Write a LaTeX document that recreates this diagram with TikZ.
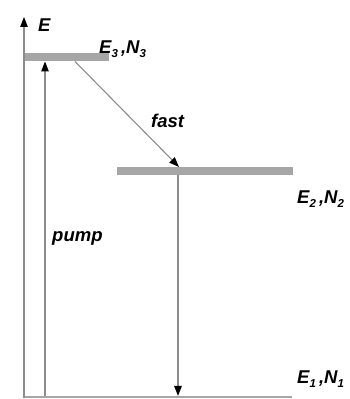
\documentclass[tikz,border=0pt]{standalone}
\usepackage{fontspec}
\setmainfont{Liberation Sans}
\usetikzlibrary{arrows.meta}
\definecolor{barcol}{HTML}{A6A6A6}
\definecolor{linecol}{HTML}{8C8C8C}
\tikzset{
  level/.style={fill=barcol, draw=none, inner sep=0pt, outer sep=0pt},
  conn/.style={draw=linecol, line width=1.3pt, -{Triangle[length=10pt,width=7.5pt,fill=black,color=black]}},
  lbl/.style={font=\fontsize{18.5}{18.5}\selectfont\bfseries\itshape, inner sep=0pt, anchor=west},
}
\newcommand{\sbx}[1]{\raisebox{-3.5pt}{\fontsize{11.5}{11.5}\selectfont #1}}
\begin{document}
\begin{tikzpicture}[x=1pt,y=1pt]
\useasboundingbox (0,0) rectangle (350,399);
% levels
\node[level, minimum width=85pt, minimum height=8pt] (L3) at (66.5,341.5) {};
\node[level, minimum width=176pt, minimum height=8pt] (L2) at (205,228) {};
\node[level, minimum width=268pt, minimum height=2.5pt] (L1) at (158,1.8) {};
% axis
\coordinate (ax0) at (24,0.5);
\coordinate (axtop) at (24,382);
\draw[conn] (ax0) -- (axtop);
% pump
\coordinate (pb) at (45,3);
\draw[conn] (pb) -- (pb |- L3.south);
% fast
\coordinate (fs) at (75,337.5);
\coordinate (fe) at (179,232);
\draw[conn, line width=1.1pt] (fs) -- (fe |- L2.north);
% emission
\coordinate (ds) at (178,224);
\draw[conn] (ds) -- (ds |- L1.north);
% labels
\node[lbl] (tE) at (38,374) {E};
\node[lbl] (t3) at (99,350) {E\sbx{3}\,,N\sbx{3}};
\node[lbl] (tf) at (151,278) {fast};
\node[lbl] (t2) at (297,200) {E\sbx{2}\,,N\sbx{2}};
\node[lbl] (tp) at (52,161) {pump};
\node[lbl] (t1) at (297,20) {E\sbx{1}\,,N\sbx{1}};
\end{tikzpicture}
\end{document}
